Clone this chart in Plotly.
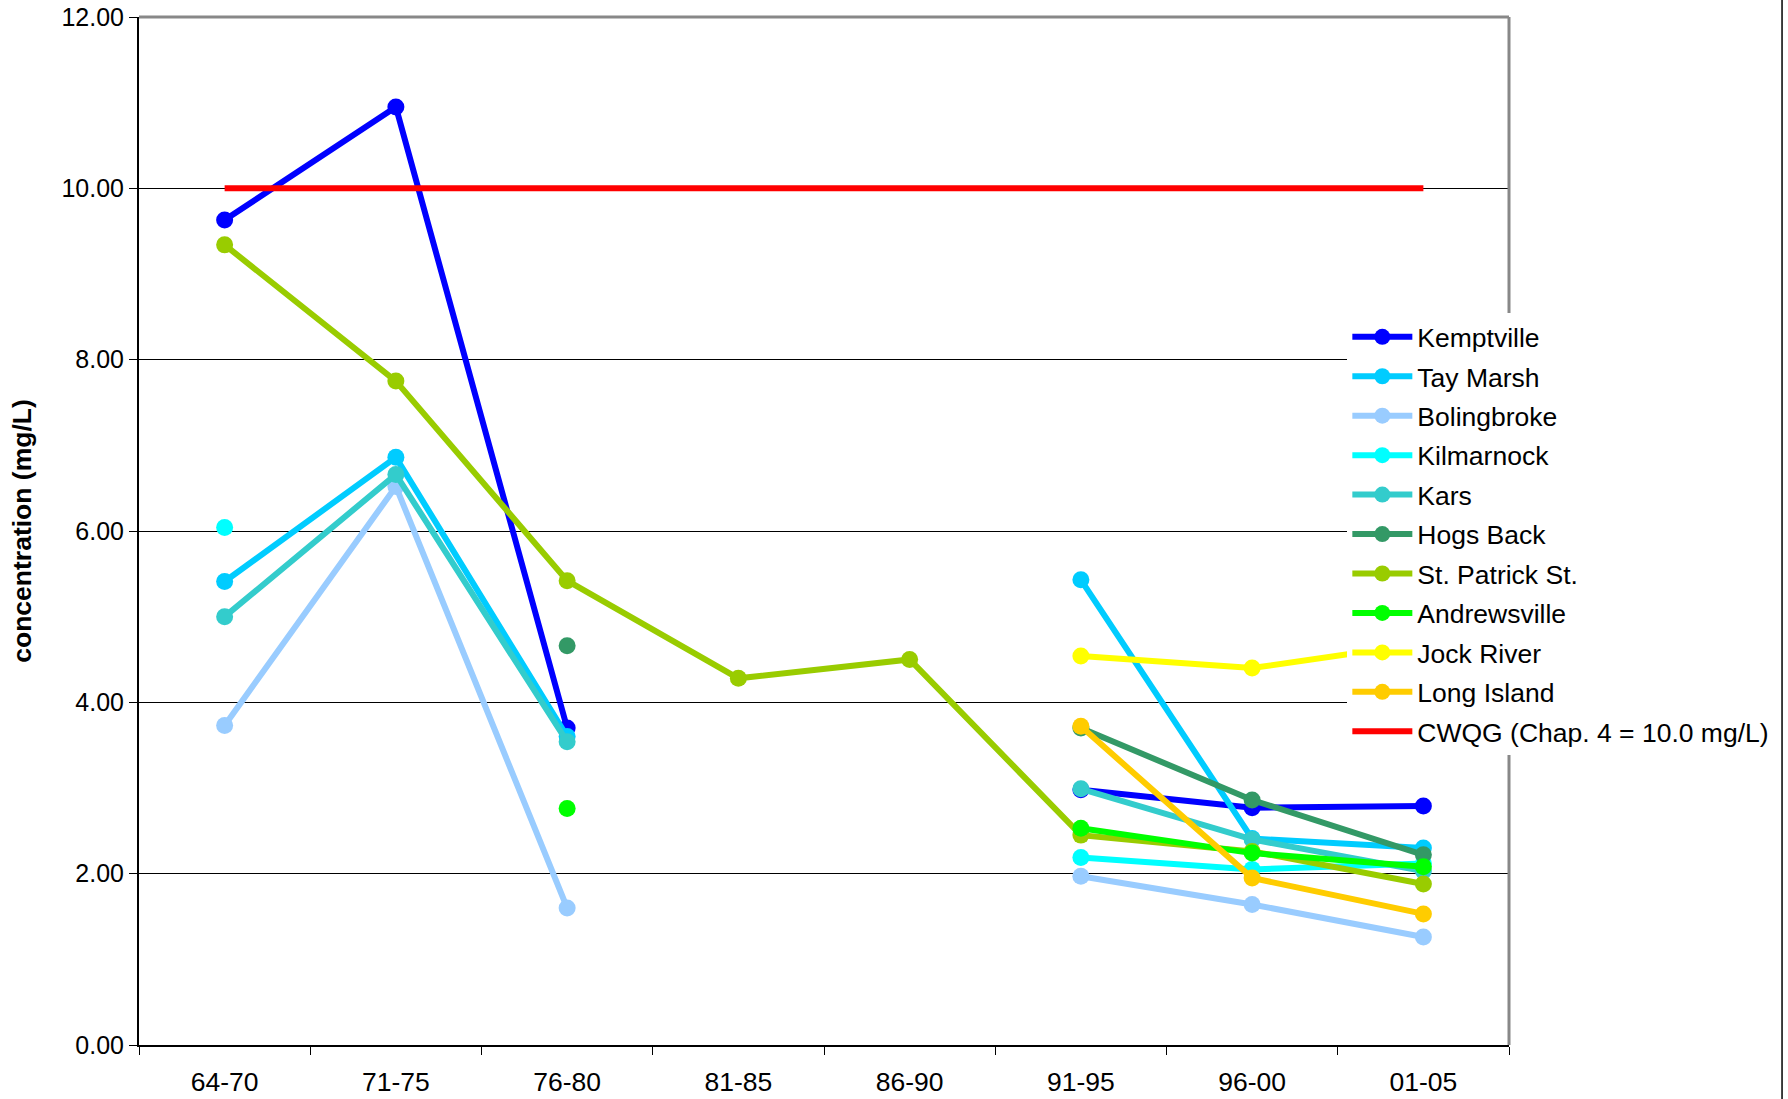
import plotly.graph_objects as go

categories = ["64-70", "71-75", "76-80", "81-85", "86-90", "91-95", "96-00", "01-05"]

kemptville   = [9.63, 10.95, 3.70, None, None, 2.98, 2.77, 2.79]
tay_marsh    = [5.41, 6.86, 3.60, None, None, 5.43, 2.41, 2.30]
bolingbroke  = [3.73, 6.52, 1.60, None, None, 1.97, 1.64, 1.26]
kilmarnock   = [6.04, None, None, None, None, 2.19, 2.05, 2.12]
kars         = [5.00, 6.66, 3.54, None, None, 2.99, 2.40, 2.03]
hogs_back    = [None, None, 4.66, None, None, 3.70, 2.86, 2.22]
st_patrick   = [9.34, 7.75, 5.42, 4.28, 4.50, 2.45, 2.26, 1.88]
andrewsville = [None, None, 2.76, None, None, 2.53, 2.24, 2.08]
jock_river   = [None, None, None, None, None, 4.54, 4.40, 4.69]
long_island  = [None, None, None, None, None, 3.72, 1.95, 1.53]
cwqg         = [10.0, 10.0, 10.0, 10.0, 10.0, 10.0, 10.0, 10.0]

series = [
    ("Kemptville", kemptville, "#0000FF"),
    ("Tay Marsh", tay_marsh, "#00CCFF"),
    ("Bolingbroke", bolingbroke, "#99CCFF"),
    ("Kilmarnock", kilmarnock, "#00FFFF"),
    ("Kars", kars, "#33CCCC"),
    ("Hogs Back", hogs_back, "#339966"),
    ("St. Patrick St.", st_patrick, "#99CC00"),
    ("Andrewsville", andrewsville, "#00FF00"),
    ("Jock River", jock_river, "#FFFF00"),
    ("Long Island", long_island, "#FFCC00"),
]

y_ticks = [0, 2, 4, 6, 8, 10, 12]

fig = go.Figure()
for name, vals, color in series:
    fig.add_trace(go.Scatter(
        x=categories, y=vals, name=name, mode="lines+markers",
        line=dict(color=color, width=6),
        marker=dict(color=color, size=17, line=dict(width=0)),
        connectgaps=False, legendgroup=name,
    ))
fig.add_trace(go.Scatter(
    x=categories, y=cwqg, name="CWQG (Chap. 4 = 10.0 mg/L)", mode="lines",
    line=dict(color="#FF0000", width=6), legendgroup="cwqg",
))

font_family = "Liberation Sans, Arial, sans-serif"

fig.update_layout(
    width=1788, height=1099,
    margin=dict(l=139, r=279, t=17, b=54),
    paper_bgcolor="white", plot_bgcolor="white",
    font=dict(family=font_family, size=25, color="black"),
    showlegend=True,
    legend=dict(
        x=0.882, y=0.712, xanchor="left", yanchor="top",
        bgcolor="white", borderwidth=0,
        font=dict(family=font_family, size=26.5, color="black"),
        tracegroupgap=2, itemwidth=60,
    ),
    xaxis=dict(
        type="category", categoryorder="array", categoryarray=categories,
        range=[-0.5, 7.5],
        showgrid=False, zeroline=False,
        showline=True, linecolor="black", linewidth=2,
        ticks="outside", tickson="boundaries", ticklen=8, tickcolor="black",
        tickfont=dict(family=font_family, size=26.5, color="black"),
        ticklabelstandoff=12, ticklabeloverflow="allow",
        automargin=False,
        fixedrange=True,
    ),
    yaxis=dict(
        range=[0, 12], tickvals=y_ticks, tickformat=".2f",
        showgrid=True, gridcolor="black", gridwidth=1,
        zeroline=False,
        showline=True, linecolor="black", linewidth=2,
        ticks="outside", ticklen=8, tickcolor="black",
        tickfont=dict(family=font_family, size=25, color="black"),
        ticklabelstandoff=0, ticklabeloverflow="allow",
        title=dict(text="<b>concentration (mg/L)</b>", standoff=22,
                   font=dict(family=font_family, size=26.5, color="black")),
        automargin=False,
        fixedrange=True,
    ),
    shapes=[
        dict(type="line", xref="paper", yref="paper", x0=0, x1=1, y0=1, y1=1,
             line=dict(color="#888888", width=3), layer="above"),
        dict(type="line", xref="paper", yref="paper", x0=1, x1=1, y0=0, y1=1,
             line=dict(color="#888888", width=3), layer="above"),
        dict(type="line", xref="paper", yref="paper", x0=1.1993, x1=1.1993, y0=-0.06, y1=1.02,
             line=dict(color="black", width=1.5), layer="above"),
    ],
)

fig.write_html("out.html", config={"displayModeBar": False},
               post_script="document.body.style.margin='0';")
